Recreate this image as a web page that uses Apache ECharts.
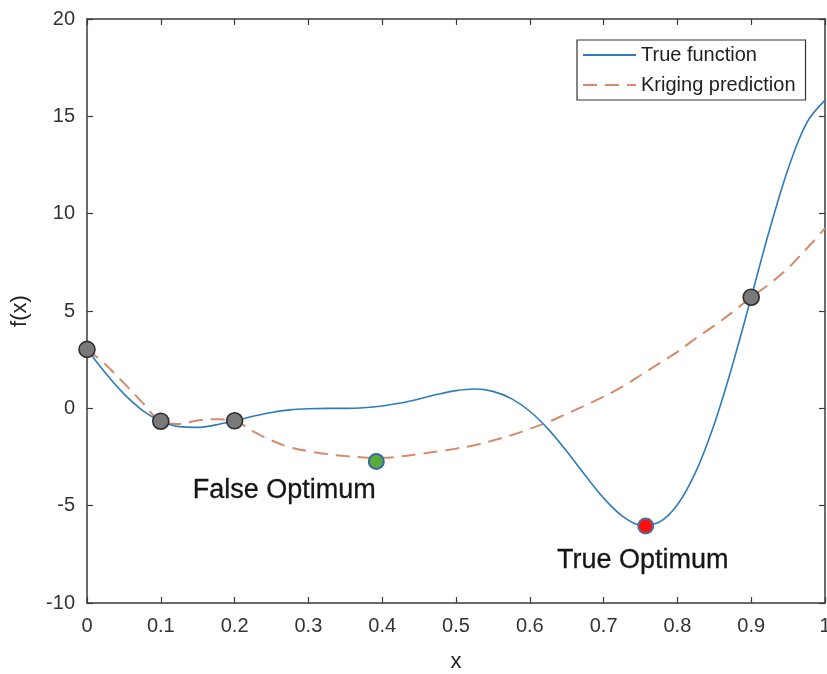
<!DOCTYPE html>
<html>
<head>
<meta charset="utf-8">
<script src="https://cdn.jsdelivr.net/npm/echarts@6/dist/echarts.min.js"></script>
<style>
  html, body { margin: 0; padding: 0; background: #fff; }
  #chart { width: 827px; height: 674px; }
</style>
</head>
<body>
<div id="chart"></div>
<script>
// Sample positions along x
const xs = [0, 0.025, 0.05, 0.075, 0.1, 0.125, 0.15, 0.175, 0.2, 0.225, 0.25, 0.275, 0.3, 0.325, 0.35, 0.375,
  0.4, 0.425, 0.45, 0.475, 0.5, 0.525, 0.55, 0.575, 0.6, 0.625, 0.65, 0.675, 0.7, 0.725, 0.75, 0.775,
  0.8, 0.825, 0.85, 0.875, 0.9, 0.925, 0.95, 0.975, 1];

// True function values
const trueValues = [3.03, 1.81, 0.74, -0.10, -0.66, -0.94, -0.98, -0.85, -0.64, -0.41, -0.21, -0.08, -0.02, 0.00, 0.00, 0.03,
  0.12, 0.27, 0.48, 0.72, 0.91, 0.99, 0.87, 0.50, -0.15, -1.07, -2.21, -3.44, -4.61, -5.52, -5.99, -5.85,
  -4.95, -3.25, -0.80, 2.27, 5.71, 9.19, 12.30, 14.65, 15.83];

// Kriging prediction values
const krigingValues = [3.03, 2.25, 1.30, 0.30, -0.66, -0.80, -0.62, -0.56, -0.64, -1.18, -1.65, -2.00, -2.20, -2.35, -2.45, -2.52,
  -2.54, -2.47, -2.35, -2.22, -2.07, -1.90, -1.65, -1.38, -1.05, -0.70, -0.28, 0.15, 0.60, 1.10, 1.70, 2.30,
  2.90, 3.60, 4.25, 4.95, 5.71, 6.40, 7.20, 8.20, 9.25];

// Observed samples
const sampleX = [0, 0.1, 0.2, 0.9];
const sampleY = [3.03, -0.66, -0.64, 5.71];

// Highlighted optima
const falseOptimum = [0.392, -2.73];
const trueOptimum = [0.757, -6.05];

const xTickLabels = ['0', '0.1', '0.2', '0.3', '0.4', '0.5', '0.6', '0.7', '0.8', '0.9', '1'];
const yTickLabels = ['-10', '-5', '0', '5', '10', '15', '20'];

const FONT = 'Liberation Sans, Arial, Helvetica, sans-serif';
const AXIS_COLOR = '#3a3a3a';
const TEXT_COLOR = '#222222';

const pairs = (a, b) => a.map((v, i) => [v, b[i]]);

const chart = echarts.init(document.getElementById('chart'), null, { renderer: 'canvas' });

const boxAxis = {
  axisLine: { show: true, onZero: false, lineStyle: { color: AXIS_COLOR, width: 1.5 } },
  axisTick: { show: true, inside: true, length: 6, lineStyle: { color: AXIS_COLOR, width: 1.2 } },
  splitLine: { show: false }
};

const annotationText = {
  fontFamily: FONT, fontSize: 27, color: '#151515',
  textBorderColor: '#151515', textBorderWidth: 0.3
};

chart.setOption({
  animation: false,
  backgroundColor: '#ffffff',
  textStyle: { fontFamily: FONT },
  grid: { left: 87, top: 19, right: 2, bottom: 71, containLabel: false, outerBoundsMode: 'none' },
  legend: {
    data: ['True function', 'Kriging prediction'],
    orient: 'vertical',
    left: 577,
    top: 40,
    padding: [5, 10, 5, 5],
    itemGap: 10,
    itemWidth: 53,
    itemHeight: 14,
    backgroundColor: '#ffffff',
    borderColor: '#333333',
    borderWidth: 1.2,
    borderRadius: 0,
    itemStyle: { opacity: 0 },
    textStyle: { fontFamily: FONT, fontSize: 20, color: TEXT_COLOR }
  },
  xAxis: [
    Object.assign({}, boxAxis, {
      type: 'value', min: 0, max: 1, interval: 0.1, position: 'bottom',
      name: 'x', nameLocation: 'middle', nameGap: 48,
      nameTextStyle: { fontFamily: FONT, fontSize: 22, color: TEXT_COLOR },
      axisLabel: {
        margin: 13, fontSize: 20, color: '#333333', fontFamily: FONT,
        formatter: v => xTickLabels[Math.round(v * 10)]
      }
    }),
    Object.assign({}, boxAxis, {
      type: 'value', min: 0, max: 1, interval: 0.1, position: 'top',
      axisLabel: { show: false }
    })
  ],
  yAxis: [
    Object.assign({}, boxAxis, {
      type: 'value', min: -10, max: 20, interval: 5, position: 'left',
      name: 'f(x)', nameLocation: 'middle', nameGap: 56, nameRotate: 90,
      nameTextStyle: { fontFamily: FONT, fontSize: 22, color: TEXT_COLOR },
      axisLabel: {
        margin: 12, fontSize: 20, color: '#333333', fontFamily: FONT,
        formatter: v => yTickLabels[Math.round((v + 10) / 5)]
      }
    }),
    Object.assign({}, boxAxis, {
      type: 'value', min: -10, max: 20, interval: 5, position: 'right',
      axisLabel: { show: false }
    })
  ],
  series: [
    {
      name: 'True function',
      type: 'line',
      data: pairs(xs, trueValues),
      smooth: 0.35,
      symbol: 'none',
      lineStyle: { color: '#2f7cb8', width: 1.6 },
      itemStyle: { color: '#2f7cb8' },
      z: 3
    },
    {
      name: 'Kriging prediction',
      type: 'line',
      data: pairs(xs, krigingValues),
      smooth: 0.35,
      symbol: 'none',
      lineStyle: { color: '#d58c6c', width: 2, type: [14, 8] },
      itemStyle: { color: '#d58c6c' },
      z: 2
    },
    {
      name: 'Samples',
      type: 'scatter',
      data: pairs(sampleX, sampleY),
      symbolSize: 16,
      itemStyle: { color: '#7a7a7a', borderColor: '#2e2e2e', borderWidth: 1.6, opacity: 1 },
      z: 5
    },
    {
      name: 'False optimum',
      type: 'scatter',
      data: [falseOptimum],
      symbolSize: 15,
      itemStyle: { color: '#58ad3a', borderColor: '#3b66a8', borderWidth: 2, opacity: 1 },
      label: Object.assign({
        show: true, position: 'bottom', distance: 5, offset: [-92, 2],
        formatter: 'False Optimum'
      }, annotationText),
      z: 5
    },
    {
      name: 'True optimum',
      type: 'scatter',
      data: [trueOptimum],
      symbolSize: 15,
      itemStyle: { color: '#ff1010', borderColor: '#4f6f9a', borderWidth: 2, opacity: 1 },
      label: Object.assign({
        show: true, position: 'bottom', distance: 5, offset: [-3, 7],
        formatter: 'True Optimum'
      }, annotationText),
      z: 5
    }
  ]
});
</script>
</body>
</html>
